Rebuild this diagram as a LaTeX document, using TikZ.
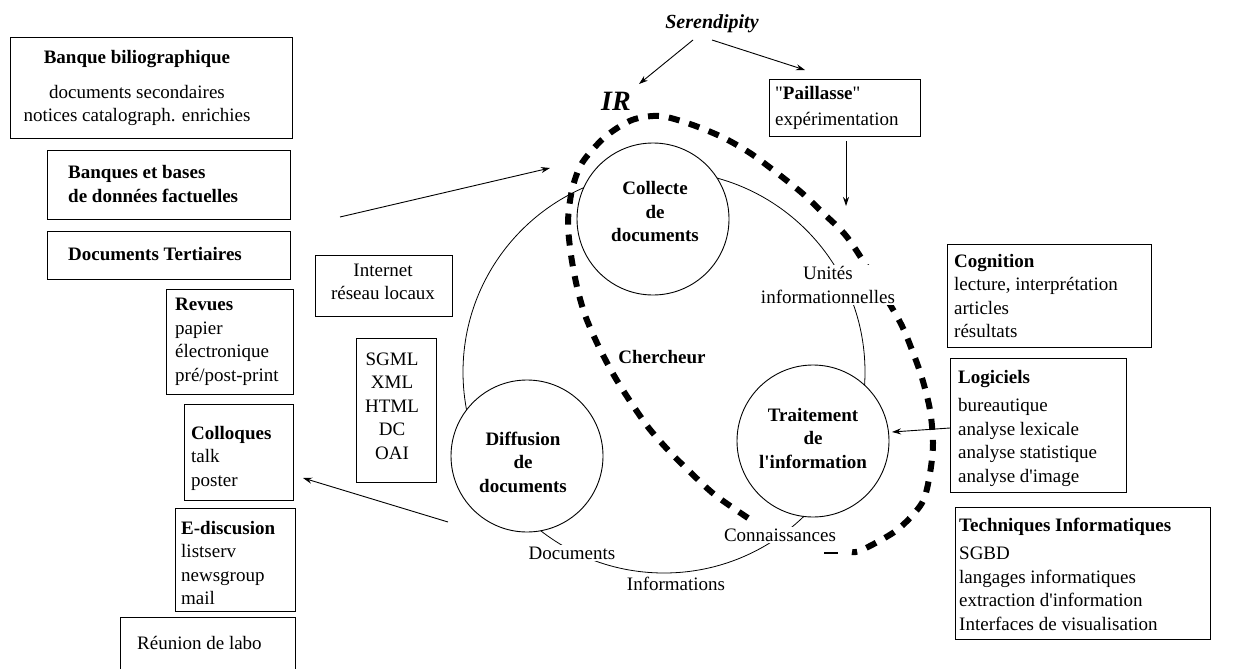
\documentclass[tikz,border=0pt]{standalone}
\usepackage{fontspec}
\setmainfont{Liberation Serif}[Ligatures=TeXOff]
\usetikzlibrary{arrows.meta}
\begin{document}
\begin{tikzpicture}[x=1pt,y=-1pt,
  every node/.style={font=\fontsize{19}{23.5}\selectfont},
  frame/.style={draw,line width=1.3pt,inner sep=0pt,anchor=north west},
  txt/.style={inner sep=0pt,align=left,anchor=west},
  ctxt/.style={inner sep=0pt,align=center},
  disc/.style={draw,circle,line width=0.9pt,fill=white,minimum size=152pt,inner sep=0pt},
  lbl/.style={fill=white,inner sep=1.5pt},
  arr/.style={line width=0.9pt,-{Stealth[length=9pt,width=6pt]}},
  irline/.style={line width=6pt,dash pattern=on 11pt off 10pt}]
\useasboundingbox (0,0) rectangle (1239,669);
\fill[white] (0,0) rectangle (1239,669);

% big cycle
\draw[line width=0.8pt] (664,372) circle (201pt);

% left boxes
\node[frame,minimum width=282pt,minimum height=101pt] (bib) at (10,37) {};
\node[ctxt] (bibt) at (137,88) {\textbf{Banque biliographique}\\[11pt] documents secondaires\\ notices catalograph. enrichies};
\node[frame,minimum width=243pt,minimum height=69pt] (bdf) at (47,150) {};
\node[txt] (bdft) at (68,184) {\textbf{Banques et bases}\\ \textbf{de données factuelles}};
\node[frame,minimum width=243pt,minimum height=48pt] (ter) at (47,231) {};
\node[txt] (tert) at (68,254) {\textbf{Documents Tertiaires}};
\node[frame,minimum width=127pt,minimum height=105pt] (rev) at (166,289) {};
\node[txt] (revt) at (175,342) {\textbf{Revues}\\ papier\\ électronique\\ pré/post-print};
\node[frame,minimum width=109pt,minimum height=96pt] (col) at (184,404) {};
\node[txt] (colt) at (191,458) {\textbf{Colloques}\\ talk\\ poster};
\node[frame,minimum width=120pt,minimum height=103pt] (edi) at (175,508) {};
\node[txt] (edit) at (181,563) {\textbf{E-discusion}\\ listserv\\ newsgroup\\ mail};
\node[frame,minimum width=175pt,minimum height=70pt] (reu) at (120,617) {};
\node[txt] (reut) at (137,643) {Réunion de labo};

% middle boxes
\node[frame,minimum width=137pt,minimum height=61pt] (int) at (315,255) {};
\node[ctxt] (intt) at (383,282) {Internet\\ réseau locaux};
\node[frame,minimum width=80pt,minimum height=144pt] (sgm) at (356,338) {};
\node[ctxt] (sgmt) at (392,406) {SGML\\ XML\\ HTML\\ DC\\ OAI};

% top
\node[frame,minimum width=151pt,minimum height=57pt] (pai) at (769,79) {};
\node[txt] (pait) at (775,108) {"\textbf{Paillasse}"\\[3pt] expérimentation};
\node[inner sep=1pt] (ser) at (712,24) {\fontsize{20}{24}\selectfont\bfseries\itshape Serendipity};
\node[inner sep=1pt] (irl) at (616,101) {\fontsize{28}{30}\selectfont\bfseries\itshape IR};

% right boxes
\node[frame,minimum width=204pt,minimum height=103pt] (cog) at (947,244) {};
\node[txt] (cogt) at (954,296) {\textbf{Cognition}\\ lecture, interprétation\\ articles\\ résultats};
\node[frame,minimum width=176pt,minimum height=134pt] (log) at (950,358) {};
\node[txt] (logt) at (958,428) {\textbf{Logiciels}\\[5pt] bureautique\\ analyse lexicale\\ analyse statistique\\ analyse d'image};
\node[frame,minimum width=255pt,minimum height=132pt] (tec) at (955,507) {};
\node[txt] (tect) at (959,574) {\textbf{Techniques Informatiques}\\[5pt] SGBD\\ langages informatiques\\ extraction d'information\\ Interfaces de visualisation};

% circles
\node[disc] (cdoc) at (653,219) {};
\node[ctxt] (cdoct) at (655,212) {\textbf{Collecte}\\ \textbf{de}\\ \textbf{documents}};
\node[disc] (ctra) at (813,441) {};
\node[ctxt] (ctrat) at (813,438) {\textbf{Traitement}\\ \textbf{de}\\ \textbf{l'information}};
\node[disc] (cdif) at (527,456) {};
\node[ctxt] (cdift) at (523,462) {\textbf{Diffusion}\\ \textbf{de}\\ \textbf{documents}};

% IR dashed boundary
\draw[irline] plot[smooth] coordinates {(748,518) (715,495) (690,472) (668,450) (648,427) (628,398) (612,372) (597,343) (585,315) (577,287) (571,255) (568,222) (572,190) (582,163) (605,137) (632,120) (660,116) (690,124) (722,137) (750,153) (777,173) (802,193) (823,213) (847,237) (875,280) (900,322) (912,350) (922,378) (930,410) (933,443) (930,473) (922,503) (897,530) (862,550) (852,552)};
\draw[line width=1.5pt] (824,553) -- (838,553);

% labels on the cycle
\node[lbl,align=center] (uni) at (828,285) {Unités\\ informationnelles};
\node[lbl] (con) at (780,535) {Connaissances};
\node[lbl] (doc) at (572,553) {Documents};
\node[lbl] (inf) at (676,584) {Informations};
\node (che) at (662,357) {\textbf{Chercheur}};

% arrows
\coordinate (s1a) at (693,40); \coordinate (s1b) at (639,84);
\coordinate (s2a) at (712,40); \coordinate (s2b) at (805,70);
\coordinate (pa) at (846,141); \coordinate (pb) at (846,206);
\coordinate (la) at (950,428); \coordinate (lb) at (892,432);
\coordinate (ina) at (340,217); \coordinate (inb) at (550,168);
\coordinate (outa) at (448,522); \coordinate (outb) at (303,478);
\draw[arr] (s1a) -- (s1b);
\draw[arr] (s2a) -- (s2b);
\draw[arr] (pa) -- (pb);
\draw[arr] (la) -- (lb);
\draw[arr] (ina) -- (inb);
\draw[arr] (outa) -- (outb);
\end{tikzpicture}
\end{document}
